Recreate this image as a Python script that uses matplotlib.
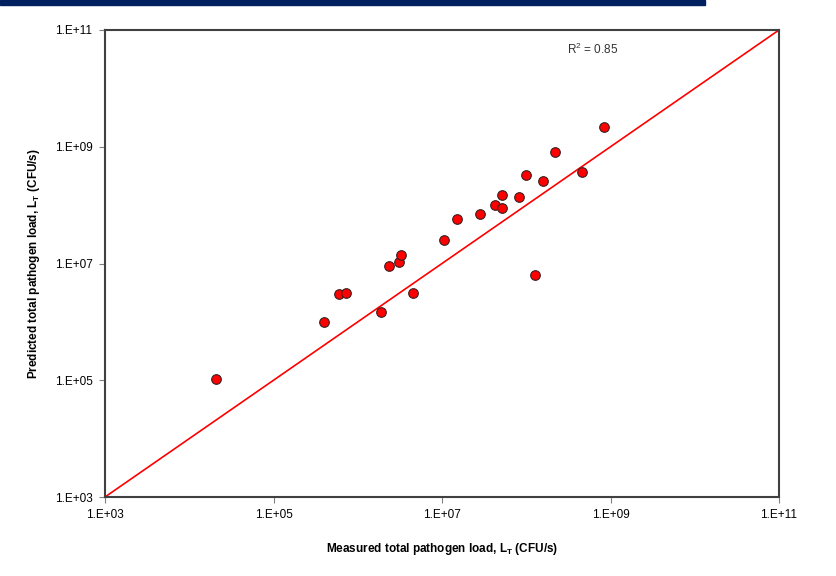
import matplotlib
matplotlib.use("Agg")
import matplotlib.pyplot as plt
import matplotlib.ticker as mticker
import numpy as np

plt.rcParams['font.family'] = ['Liberation Sans', 'DejaVu Sans']

measured = [2.1e4, 4.0e5, 6.0e5, 7.2e5, 1.9e6, 2.35e6, 3.1e6, 3.3e6, 4.5e6, 1.06e7,
            1.5e7, 2.8e7, 4.3e7, 5.2e7, 5.2e7, 8.2e7, 1.0e8, 1.6e8, 2.2e8, 4.6e8,
            8.4e8, 1.27e8]
predicted = [1.05e5, 1.0e6, 3.0e6, 3.1e6, 1.5e6, 9.0e6, 1.06e7, 1.4e7, 3.1e6, 2.5e7,
             5.8e7, 7.0e7, 1.0e8, 1.5e8, 9.0e7, 1.4e8, 3.3e8, 2.6e8, 8.1e8, 3.7e8,
             2.2e9, 6.3e6]
ticks = [1e3, 1e5, 1e7, 1e9, 1e11]
tick_labels = ["1.E+03", "1.E+05", "1.E+07", "1.E+09", "1.E+11"]
one_to_one = [1e3, 1e11]

fig = plt.figure(figsize=(8.36, 5.76), dpi=100)
fig.patches.append(plt.Rectangle((0, 1 - 5/576), 705/836, 5/576, transform=fig.transFigure,
                                 color='#002060', zorder=0))
ax = fig.add_axes([105/836, 79/576, 674/836, 467/576])
ax.set_xscale('log')
ax.set_yscale('log')
ax.set_xlim(1e3, 1e11)
ax.set_ylim(1e3, 1e11)

ax.plot(one_to_one, one_to_one, color='#ff0000', lw=1.2, zorder=2)
ax.scatter(measured, predicted, s=48, facecolor='#ff0000', edgecolor='#3a2020', linewidth=0.8, zorder=3)

ax.set_xticks(ticks)
ax.set_xticklabels(tick_labels)
ax.set_yticks(ticks)
ax.set_yticklabels(tick_labels)
ax.xaxis.set_minor_locator(mticker.NullLocator())
ax.yaxis.set_minor_locator(mticker.NullLocator())
ax.tick_params(axis='both', direction='out', length=4, width=0.8, color='#808080', labelsize=8.5, pad=5)
for s in ax.spines.values():
    s.set_color('#404040')
    s.set_linewidth(1.5)

ax.set_xlabel('Measured total pathogen load, L$_\\mathregular{T}$ (CFU/s)', fontsize=8.5, fontweight='bold', labelpad=14)
ax.set_ylabel('Predicted total pathogen load, L$_\\mathregular{T}$ (CFU/s)', fontsize=8.5, fontweight='bold', labelpad=9)
ax.text(0.685, 0.948, 'R$^\\mathregular{2}$ = 0.85', transform=ax.transAxes, fontsize=8.5, color='#333333')

fig.savefig('out.png', dpi=100)
